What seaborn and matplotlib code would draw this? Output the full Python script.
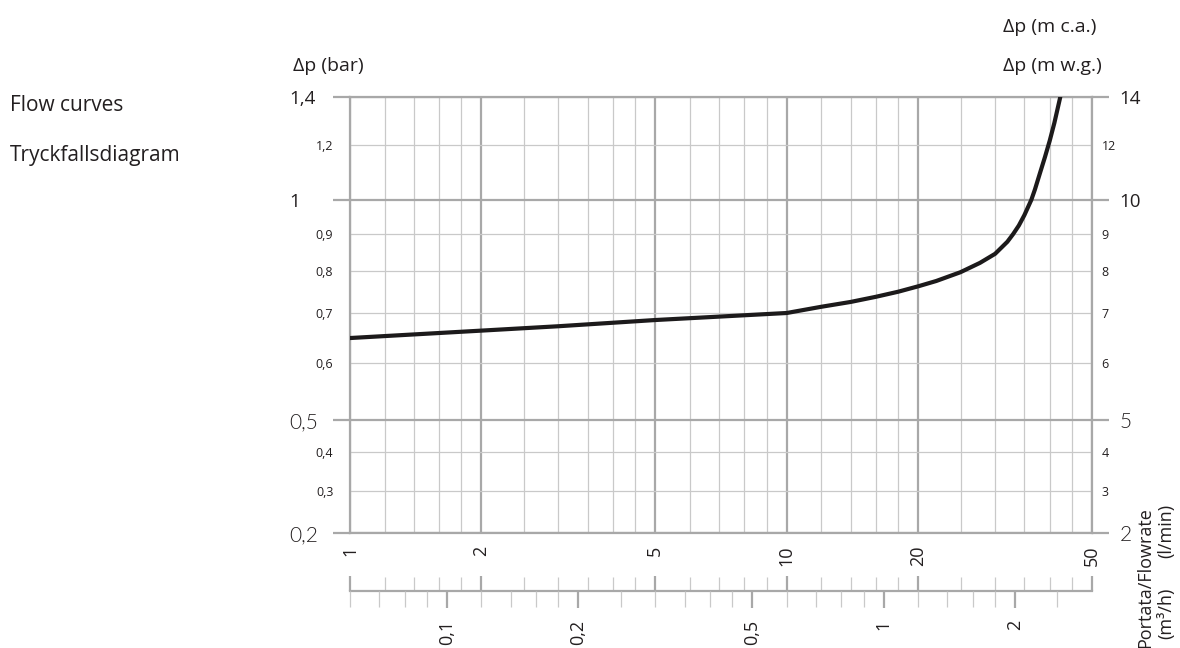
import numpy as np
import matplotlib
matplotlib.use("Agg")
import matplotlib.pyplot as plt
from matplotlib.ticker import FixedLocator, FixedFormatter, NullFormatter
import seaborn as sns

# FLOW CURVE
flow_lmin = [1, 2, 3, 5, 10, 12, 14, 16, 18, 20, 22, 25, 27.7, 30, 32, 33, 34, 35,
             36.3, 37, 38, 39, 40, 41, 42.3]
dp_bar = [0.648, 0.663, 0.672, 0.685, 0.70, 0.714, 0.725, 0.737, 0.749, 0.762,
          0.775, 0.797, 0.821, 0.845, 0.878, 0.90, 0.924, 0.954,
          1.0, 1.035, 1.093, 1.152, 1.216, 1.288, 1.4]

# PRESSURE AXIS (bar, left)
bar_major = [0.2, 0.5, 1.0, 1.4]
bar_major_labels = ["0,2", "0,5", "1", "1,4"]
bar_minor = [0.3, 0.4, 0.6, 0.7, 0.8, 0.9, 1.2]
bar_minor_labels = ["0,3", "0,4", "0,6", "0,7", "0,8", "0,9", "1,2"]

# PRESSURE AXIS (m w.g., right)
mwg_major = [2, 5, 10, 14]
mwg_major_labels = ["2", "5", "10", "14"]
mwg_minor = [3, 4, 6, 7, 8, 9, 12]
mwg_minor_labels = ["3", "4", "6", "7", "8", "9", "12"]

# FLOW AXIS (l/min)
lmin_major = [1, 2, 5, 10, 20, 50]
lmin_major_labels = ["1", "2", "5", "10", "20", "50"]
lmin_minor = [1.2, 1.4, 1.6, 1.8, 2.5, 3, 3.5, 4, 4.5, 6, 7, 8, 9,
              12, 14, 16, 18, 25, 30, 35, 40, 45]

# FLOW AXIS (m3/h)
m3h_major = [0.1, 0.2, 0.5, 1, 2]
m3h_major_labels = ["0,1", "0,2", "0,5", "1", "2"]
m3h_minor = [0.06, 0.07, 0.08, 0.09, 0.12, 0.14, 0.16, 0.18, 0.25, 0.3, 0.35,
             0.4, 0.45, 0.6, 0.7, 0.8, 0.9, 1.2, 1.4, 1.6, 1.8, 2.5]

# the printed pressure scale is log above 0.5 bar and squeezed below it
scale_vals = np.log10([0.2, 0.3, 0.4, 0.5, 0.6, 0.7, 0.8, 0.9, 1.0, 1.2, 1.4])
scale_pos = np.array([0, 42, 81, 113, 170, 220, 262, 299, 333, 388, 436], dtype=float)


def p_fwd(v):
    v = np.maximum(np.asarray(v, dtype=float), 1e-6)
    return np.interp(np.log10(v), scale_vals, scale_pos)


def p_inv(u):
    return 10 ** np.interp(np.asarray(u, dtype=float), scale_pos, scale_vals)


sns.set_style("white")
plt.rcParams['font.family'] = ['Open Sans', 'DejaVu Sans']

TXT = '#231f20'
GRID_MAJ = '#a8a8a8'
GRID_MIN = '#c9c9c9'
LW_MAJ = 1.6
LW_MIN = 0.9
THIN = dict(family=['Lato', 'DejaVu Sans'], weight=300)

fig = plt.figure(figsize=(11.8, 6.48), dpi=100)
ax = fig.add_axes([350 / 1180, 1 - 533 / 648, 742 / 1180, 436 / 648])

ax.set_xscale('log')
ax.set_yscale('function', functions=(p_fwd, p_inv))

sns.lineplot(x=flow_lmin, y=dp_bar, ax=ax, color='#1c1a1b', linewidth=3.0,
             sort=False, estimator=None, zorder=5)

ax.set_xlim(1, 50)
ax.set_ylim(0.2, 1.4)

# x ticks (l/min)
ax.xaxis.set_major_locator(FixedLocator(lmin_major))
ax.xaxis.set_major_formatter(FixedFormatter(lmin_major_labels))
ax.xaxis.set_minor_locator(FixedLocator(lmin_minor))
ax.xaxis.set_minor_formatter(NullFormatter())
ax.tick_params(axis='x', which='both', length=0, pad=9, labelsize=13,
               labelrotation=90, labelcolor=TXT)

# y ticks (bar)
ax.yaxis.set_major_locator(FixedLocator(bar_major))
ax.yaxis.set_major_formatter(FixedFormatter(bar_major_labels))
ax.yaxis.set_minor_locator(FixedLocator(bar_minor))
ax.yaxis.set_minor_formatter(FixedFormatter(bar_minor_labels))
ax.tick_params(axis='y', which='major', length=12, width=LW_MAJ, color=GRID_MAJ,
               pad=32, labelsize=13.5, labelcolor=TXT, left=True)
ax.tick_params(axis='y', which='minor', length=0, pad=12, labelsize=9,
               labelcolor=TXT, left=True)
for lbl in ax.get_yticklabels():
    lbl.set_horizontalalignment('left')
for lbl in ax.get_yticklabels()[:2]:
    lbl.set(**THIN)
    lbl.set_fontsize(15)

ax.grid(which='major', color=GRID_MAJ, linewidth=LW_MAJ)
ax.grid(which='minor', color=GRID_MIN, linewidth=LW_MIN)
ax.set_axisbelow(True)
for s in ax.spines.values():
    s.set_color(GRID_MAJ)
    s.set_linewidth(LW_MAJ)

# right axis (m w.g.) = bar x 10
ax2 = ax.twinx()
ax2.set_yscale('function', functions=(lambda v: p_fwd(np.asarray(v) / 10),
                                      lambda u: p_inv(u) * 10))
ax2.set_ylim(2, 14)
ax2.yaxis.set_major_locator(FixedLocator(mwg_major))
ax2.yaxis.set_major_formatter(FixedFormatter(mwg_major_labels))
ax2.yaxis.set_minor_locator(FixedLocator(mwg_minor))
ax2.yaxis.set_minor_formatter(FixedFormatter(mwg_minor_labels))
ax2.tick_params(axis='y', which='major', length=12, width=LW_MAJ, color=GRID_MAJ,
                pad=8, labelsize=13.5, labelcolor=TXT)
ax2.tick_params(axis='y', which='minor', length=0, pad=7, labelsize=9,
                labelcolor=TXT)
for lbl in ax2.get_yticklabels()[:2]:
    lbl.set(**THIN)
    lbl.set_fontsize(15)
for s in ax2.spines.values():
    s.set_visible(False)

# lower flow scale: l/min ticks up, m3/h ticks down
loc = -58 / 436
up = ax.secondary_xaxis(loc)
up.xaxis.set_major_locator(FixedLocator(lmin_major))
up.xaxis.set_minor_locator(FixedLocator(lmin_minor))
up.xaxis.set_major_formatter(NullFormatter())
up.xaxis.set_minor_formatter(NullFormatter())
up.tick_params(which='major', direction='in', length=10.5, width=LW_MAJ, color=GRID_MAJ)
up.tick_params(which='minor', direction='in', length=10, width=LW_MIN, color=GRID_MIN)
up.spines['bottom'].set_color(GRID_MAJ)
up.spines['bottom'].set_linewidth(LW_MAJ)

m3 = ax.secondary_xaxis(loc, functions=(lambda x: x * 0.06, lambda x: x / 0.06))
m3.xaxis.set_major_locator(FixedLocator(m3h_major))
m3.xaxis.set_major_formatter(FixedFormatter(m3h_major_labels))
m3.xaxis.set_minor_locator(FixedLocator(m3h_minor))
m3.xaxis.set_minor_formatter(NullFormatter())
m3.tick_params(which='major', direction='out', length=12, width=LW_MAJ, color=GRID_MAJ,
               pad=9, labelsize=13, labelrotation=90, labelcolor=TXT)
m3.tick_params(which='minor', direction='out', length=11.5, width=LW_MIN, color=GRID_MIN)
m3.spines['bottom'].set_visible(False)

# titles and axis names
fig.text(10 / 1180, 1 - 111 / 648, "Flow curves", fontsize=15, color=TXT)
fig.text(10 / 1180, 1 - 161 / 648, "Tryckfallsdiagram", fontsize=15, color=TXT)
fig.text(293 / 1180, 1 - 71 / 648, "Δp (bar)", fontsize=14, color=TXT)
fig.text(1003 / 1180, 1 - 32 / 648, "Δp (m c.a.)", fontsize=14, color=TXT)
fig.text(1003 / 1180, 1 - 71 / 648, "Δp (m w.g.)", fontsize=14, color=TXT)
fig.text(1145 / 1180, 1 - 578 / 648, "Portata/Flowrate", fontsize=13, color=TXT,
         rotation=90, ha='center', va='center')
fig.text(1166 / 1180, 1 - 531 / 648, "(l/min)", fontsize=13, color=TXT,
         rotation=90, ha='center', va='center')
fig.text(1166 / 1180, 1 - 613 / 648, "(m³/h)", fontsize=13, color=TXT,
         rotation=90, ha='center', va='center')

fig.savefig("out.png", dpi=100)
